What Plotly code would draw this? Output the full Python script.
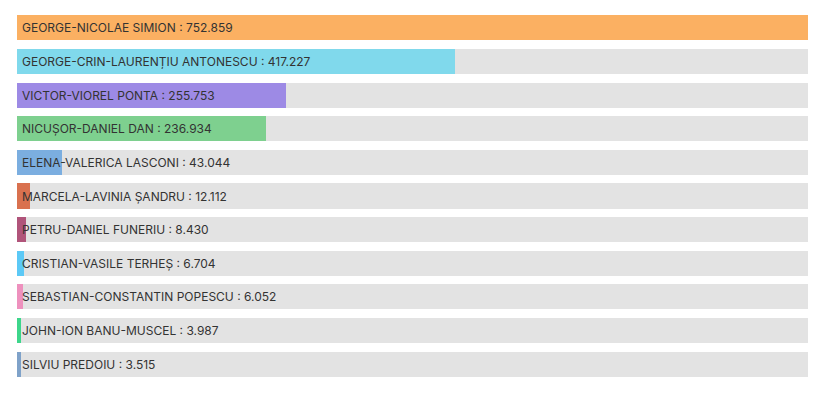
import plotly.graph_objects as go

candidates = [
    "GEORGE-NICOLAE SIMION",
    "GEORGE-CRIN-LAURENȚIU ANTONESCU",
    "VICTOR-VIOREL PONTA",
    "NICUȘOR-DANIEL DAN",
    "ELENA-VALERICA LASCONI",
    "MARCELA-LAVINIA ȘANDRU",
    "PETRU-DANIEL FUNERIU",
    "CRISTIAN-VASILE TERHEȘ",
    "SEBASTIAN-CONSTANTIN POPESCU",
    "JOHN-ION BANU-MUSCEL",
    "SILVIU PREDOIU",
]
votes = [752859, 417227, 255753, 236934, 43044, 12112, 8430, 6704, 6052, 3987, 3515]
vote_labels = ["752.859", "417.227", "255.753", "236.934", "43.044", "12.112",
               "8.430", "6.704", "6.052", "3.987", "3.515"]
colors = ["#FBB062", "#80D9EC", "#9D8AE5", "#7ED08F", "#7BAEE0", "#D9714F",
          "#B0547A", "#5CC9F6", "#EE91BE", "#3DD68B", "#7FA2C9"]

max_v = max(votes)

fig = go.Figure()
fig.add_trace(go.Bar(
    y=candidates, x=[max_v] * len(candidates), orientation="h",
    marker=dict(color="#E3E3E3", line=dict(width=0)),
    width=0.745, hoverinfo="skip", showlegend=False,
))
fig.add_trace(go.Bar(
    y=candidates, x=votes, orientation="h",
    marker=dict(color=colors, line=dict(width=0)),
    width=0.745, showlegend=False,
))
for name, lab in zip(candidates, vote_labels):
    fig.add_annotation(
        x=0, y=name, xref="x", yref="y", text=f"{name} : {lab}",
        showarrow=False, xanchor="left", xshift=3, yanchor="middle",
        font=dict(family="Inter", size=12, color="#333333"),
    )

fig.update_layout(
    width=809, height=389,
    margin=dict(l=9, r=9, t=3, b=16),
    barmode="overlay",
    paper_bgcolor="white", plot_bgcolor="white",
    xaxis=dict(range=[0, max_v], visible=False, fixedrange=True),
    yaxis=dict(autorange="reversed", visible=False, fixedrange=True),
    bargap=0,
)
fig.write_html("out.html")
